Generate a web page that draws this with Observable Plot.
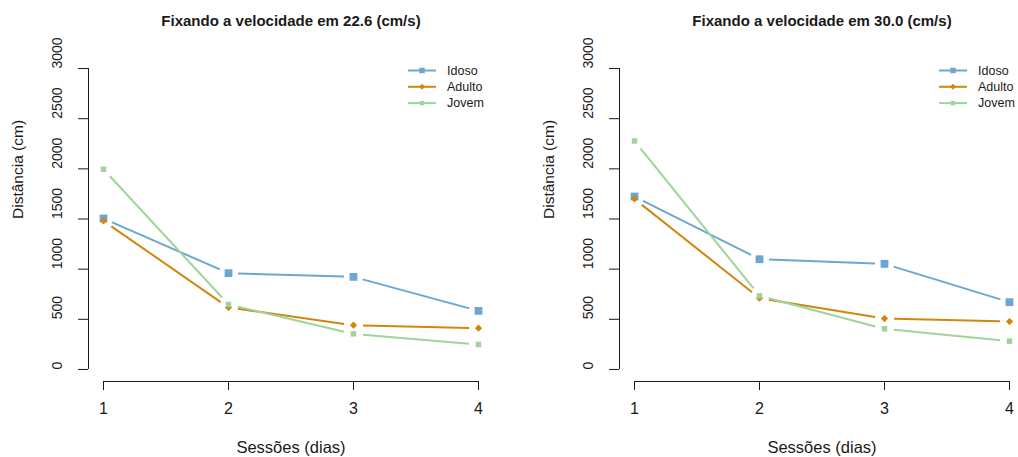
<!DOCTYPE html>
<html>
<head>
<meta charset="utf-8">
<script src="https://cdn.jsdelivr.net/npm/d3@7"></script>
<script src="https://cdn.jsdelivr.net/npm/@observablehq/plot@0.6"></script>
<style>
  html, body { margin: 0; padding: 0; background: #fff; overflow: hidden; }
  #chart { position: relative; width: 1018px; height: 457px; overflow: hidden; background: #fff; }
  .panel { position: absolute; top: 0; width: 509px; height: 457px; }
  .panel svg { display: block; }
  .legend { position: absolute; left: 0; top: 0; pointer-events: none; }
</style>
</head>
<body>
<div id="chart"></div>
<script>
// Sessions (days) and groups
const sessions = [1, 2, 3, 4];
const groups = ["Idoso", "Adulto", "Jovem"];
const groupColors = ["#6ba7d3", "#d1870e", "#9fd49a"];

// Mean distance (cm) per session, speed fixed at 22.6 cm/s
const idoso22 = [1505, 960, 923, 584];
const adulto22 = [1481, 618, 441, 412];
const jovem22 = [1996, 648, 355, 249];

// Mean distance (cm) per session, speed fixed at 30.0 cm/s
const idoso30 = [1724, 1099, 1053, 671];
const adulto30 = [1700, 711, 508, 478];
const jovem30 = [2278, 734, 405, 282];

const yTicks = [0, 500, 1000, 1500, 2000, 2500, 3000];
const titles = ["Fixando a velocidade em 22.6 (cm/s)", "Fixando a velocidade em 30.0 (cm/s)"];
const xLabel = "Sessões (dias)";
const yLabel = "Distância (cm)";

// Panel geometry (R-like 4% padding around the data range)
const W = 509, H = 457;
const margin = {left: 88, right: 16, top: 56, bottom: 76};
const xDomain = [sessions[0] - 0.04 * (sessions[3] - sessions[0]), sessions[3] + 0.04 * (sessions[3] - sessions[0])];
const yDomain = [yTicks[0] - 0.04 * (yTicks[6] - yTicks[0]), yTicks[6] + 0.04 * (yTicks[6] - yTicks[0])];
const font = "'Liberation Sans', Arial, Helvetica, sans-serif";
const ink = "#1a1a1a";
const GAP = 9.5; // blank space left around each point on the connecting lines

// Filled diamond (R pch 18 look)
const diamond = {
  draw(context, size) {
    const r = Math.sqrt(size / 2);
    context.moveTo(0, -r);
    context.lineTo(r, 0);
    context.lineTo(0, r);
    context.lineTo(-r, 0);
    context.closePath();
  }
};
const symbols = ["square", diamond, "square"];
const radii = [4.4, 2.9, 3.1];

function panel(series, title, left) {
  const rows = groups.flatMap((g, k) => sessions.map((s, i) => ({group: g, session: s, value: series[k][i]})));

  // Same linear mapping as the plot's scales, used to open gaps around points
  const sx = d3.scaleLinear(xDomain, [margin.left, W - margin.right]);
  const sy = d3.scaleLinear(yDomain, [H - margin.bottom, margin.top]);
  const segments = [];
  groups.forEach((g, k) => {
    for (let i = 0; i < sessions.length - 1; i++) {
      const ax = sx(sessions[i]), ay = sy(series[k][i]);
      const bx = sx(sessions[i + 1]), by = sy(series[k][i + 1]);
      const len = Math.hypot(bx - ax, by - ay);
      if (len <= 2 * GAP) continue;
      const ux = (bx - ax) / len, uy = (by - ay) / len;
      segments.push({
        group: g,
        x1: sx.invert(ax + ux * GAP), y1: sy.invert(ay + uy * GAP),
        x2: sx.invert(bx - ux * GAP), y2: sy.invert(by - uy * GAP)
      });
    }
  });

  const plot = Plot.plot({
    width: W,
    height: H,
    marginLeft: margin.left,
    marginRight: margin.right,
    marginTop: margin.top,
    marginBottom: margin.bottom,
    x: {domain: xDomain, axis: null},
    y: {domain: yDomain, axis: null},
    color: {domain: groups, range: groupColors},
    style: {fontFamily: font, background: "#fff", color: ink, overflow: "visible"},
    marks: [
      // axis lines spanning first to last tick
      Plot.ruleX([xDomain[0]], {y1: yTicks[0], y2: yTicks[yTicks.length - 1], stroke: ink}),
      Plot.ruleY([yDomain[0]], {x1: sessions[0], x2: sessions[sessions.length - 1], stroke: ink}),
      Plot.axisY({ticks: yTicks, tickSize: 10, tickFormat: () => "", label: null, stroke: ink}),
      Plot.text(yTicks, {y: d => d, text: d => String(d), frameAnchor: "left", dx: -31, rotate: -90, fontSize: 14, fill: ink}),
      Plot.axisX({ticks: sessions, tickSize: 9, tickPadding: 12, tickFormat: d => String(d), fontSize: 16, label: null, stroke: ink, fill: ink}),
      // titles
      Plot.text([title], {frameAnchor: "top", dy: -41, fontSize: 15, fontWeight: "bold", fill: ink}),
      Plot.text([xLabel], {frameAnchor: "bottom", dy: 71, fontSize: 16.5, fill: ink}),
      Plot.text([yLabel], {frameAnchor: "left", dx: -70, rotate: -90, fontSize: 15.5, fill: ink}),
      // data
      Plot.link(segments, {x1: "x1", y1: "y1", x2: "x2", y2: "y2", stroke: "group", strokeWidth: 2}),
      ...groups.map((g, k) => Plot.dot(rows.filter(d => d.group === g), {
        x: "session", y: "value", fill: "group", symbol: () => symbols[k], r: radii[k]
      }))
    ]
  });

  const div = document.createElement("div");
  div.className = "panel";
  div.style.left = left + "px";
  div.appendChild(plot);

  // legend (no box) in the upper right of the panel
  const lg = d3.create("svg")
    .attr("class", "legend")
    .attr("width", W)
    .attr("height", 130)
    .style("font-family", font);
  const lx0 = 408, lx1 = 436, tx = 447, ly0 = 70.5, step = 16.3;
  const legendSymbols = [d3.symbolSquare, diamond, d3.symbolSquare];
  const legendSizes = [30, 18, 20];
  groups.forEach((g, k) => {
    const y = ly0 + k * step;
    lg.append("line")
      .attr("x1", lx0).attr("x2", lx1).attr("y1", y).attr("y2", y)
      .attr("stroke", groupColors[k]).attr("stroke-width", 2);
    lg.append("path")
      .attr("transform", `translate(${(lx0 + lx1) / 2},${y})`)
      .attr("d", d3.symbol(legendSymbols[k], legendSizes[k])())
      .attr("fill", groupColors[k]);
    lg.append("text")
      .attr("x", tx).attr("y", y).attr("dy", "0.35em")
      .attr("font-size", 12.5).attr("fill", ink)
      .text(g);
  });
  div.appendChild(lg.node());
  document.getElementById("chart").appendChild(div);
}

panel([idoso22, adulto22, jovem22], titles[0], 0);
panel([idoso30, adulto30, jovem30], titles[1], 531);
</script>
</body>
</html>
